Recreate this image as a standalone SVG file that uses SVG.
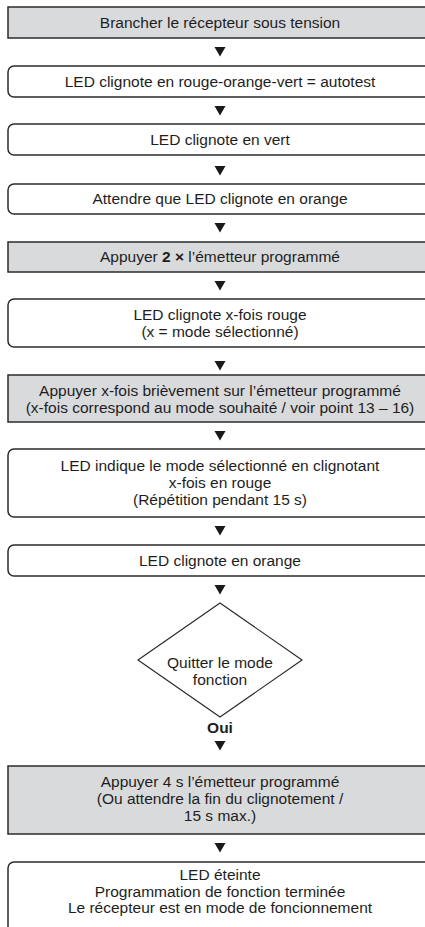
<svg xmlns="http://www.w3.org/2000/svg" width="425" height="927" viewBox="0 0 425 927">
  <style>
    .box { fill: #ffffff; stroke: #2b2b2b; stroke-width: 1.5; }
    .act { fill: #d9dadc; stroke: #2b2b2b; stroke-width: 1.5; }
    .dec { fill: #ffffff; stroke: #2b2b2b; stroke-width: 1.2; }
    text { font-family: "Liberation Sans", Arial, sans-serif; font-size: 15.5px; fill: #1e1e1e; text-anchor: middle; }
    .b { font-weight: bold; }
    .arr { fill: #1a1a1a; }
  </style>
  <defs>
    <!-- downward flow arrowhead -->
    <path id="tri" d="M -5.5 0 L 5.5 0 L 0 9.5 Z"/>
  </defs>
  <rect width="425" height="927" fill="#ffffff"/>

  <g id="n1">
    <rect class="act" x="8" y="7" width="440" height="31"/>
    <text x="220" y="28">Brancher le récepteur sous tension</text>
  </g>
  <g id="n2">
    <rect class="box" x="8" y="66" width="440" height="31" rx="6"/>
    <text x="220" y="87">LED clignote en rouge-orange-vert = autotest</text>
  </g>
  <g id="n3">
    <rect class="box" x="8" y="124" width="440" height="31" rx="6"/>
    <text x="220" y="145">LED clignote en vert</text>
  </g>
  <g id="n4">
    <rect class="box" x="8" y="184" width="440" height="30" rx="6"/>
    <text x="220" y="204">Attendre que LED clignote en orange</text>
  </g>
  <g id="n5">
    <rect class="act" x="8" y="242" width="440" height="30"/>
    <text x="220" y="262">Appuyer <tspan class="b">2 ×</tspan> l’émetteur programmé</text>
  </g>
  <g id="n6">
    <rect class="box" x="8" y="299" width="440" height="48" rx="6"/>
    <text x="220" y="320">LED clignote x-fois rouge</text>
    <text x="220" y="337">(x = mode sélectionné)</text>
  </g>
  <g id="n7">
    <rect class="act" x="8" y="375" width="440" height="47"/>
    <text x="220" y="396">Appuyer x-fois brièvement sur l’émetteur programmé</text>
    <text x="220" y="413">(x-fois correspond au mode souhaité / voir point 13 – 16)</text>
  </g>
  <g id="n8">
    <rect class="box" x="8" y="449" width="440" height="68" rx="6"/>
    <text x="220" y="471">LED indique le mode sélectionné en clignotant</text>
    <text x="220" y="488">x-fois en rouge</text>
    <text x="220" y="505">(Répétition pendant 15 s)</text>
  </g>
  <g id="n9">
    <rect class="box" x="8" y="545" width="440" height="31" rx="6"/>
    <text x="220" y="566">LED clignote en orange</text>
  </g>
  <g id="n10">
    <polygon class="dec" points="220,603 302,660 220,717 138,660"/>
    <text x="220" y="668">Quitter le mode</text>
    <text x="220" y="685">fonction</text>
  </g>
  <g id="n11">
    <rect class="act" x="8" y="766" width="440" height="68"/>
    <text x="220" y="787">Appuyer 4 s l’émetteur programmé</text>
    <text x="220" y="804">(Ou attendre la fin du clignotement /</text>
    <text x="220" y="821">15 s max.)</text>
  </g>
  <g id="n12">
    <rect class="box" x="8" y="862" width="440" height="80" rx="6"/>
    <text x="220" y="880">LED éteinte</text>
    <text x="220" y="897">Programmation de fonction terminée</text>
    <text x="220" y="913">Le récepteur est en mode de foncionnement</text>
  </g>

  <g id="connectors">
    <use href="#tri" class="arr" x="220" y="47"/>
    <use href="#tri" class="arr" x="220" y="106"/>
    <use href="#tri" class="arr" x="220" y="166"/>
    <use href="#tri" class="arr" x="220" y="223"/>
    <use href="#tri" class="arr" x="220" y="281"/>
    <use href="#tri" class="arr" x="220" y="361"/>
    <use href="#tri" class="arr" x="220" y="431"/>
    <use href="#tri" class="arr" x="220" y="526"/>
    <use href="#tri" class="arr" x="220" y="585"/>
    <text class="b" x="220" y="733">Oui</text>
    <use href="#tri" class="arr" x="220" y="741"/>
    <use href="#tri" class="arr" x="220" y="843"/>
  </g>
</svg>
